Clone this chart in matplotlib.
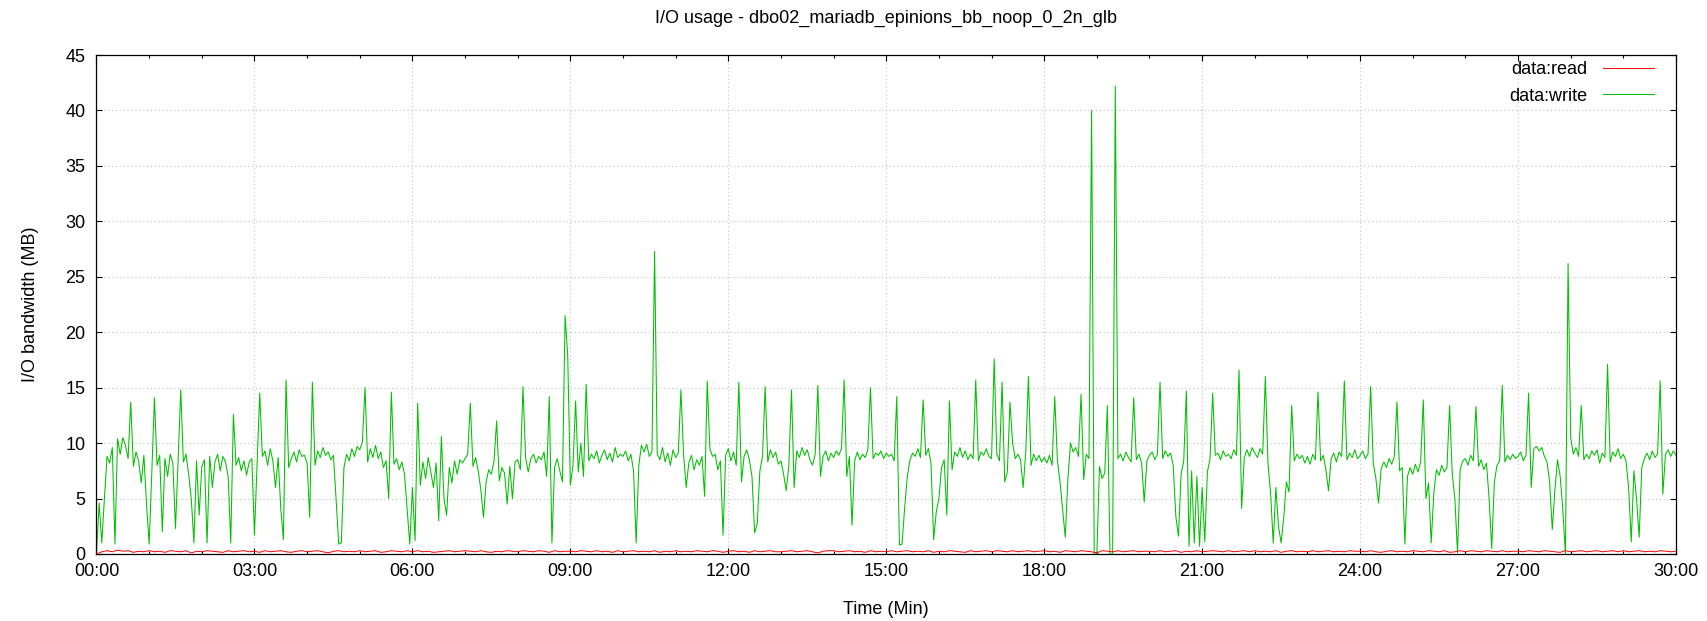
import matplotlib
matplotlib.use('Agg')
import matplotlib.pyplot as plt
from matplotlib.ticker import MultipleLocator, FuncFormatter
import numpy as np

plt.rcParams['font.family'] = ['Liberation Sans', 'DejaVu Sans']

title = "I/O usage - dbo02_mariadb_epinions_bb_noop_0_2n_glb"
x_label = "Time (Min)"
y_label = "I/O bandwidth (MB)"
series_names = ["data:read", "data:write"]

# write bandwidth (MB), one sample every 3 s, rows = minutes
write_mb = [
    0.1, 4.6, 1.0, 5.0, 8.8, 8.2, 9.6, 0.9, 10.4, 9.0, 10.5, 9.8, 8.6, 13.7, 7.9, 9.2, 8.4, 6.4, 8.9, 4.5,
    0.9, 7.3, 14.1, 8.0, 8.9, 2.0, 8.6, 7.0, 9.0, 8.2, 2.3, 8.4, 14.8, 8.3, 9.0, 7.2, 5.0, 1.0, 8.4, 3.5,
    7.9, 8.5, 1.0, 8.8, 6.0, 8.3, 9.0, 7.5, 8.8, 8.3, 7.0, 1.0, 12.6, 8.0, 8.7, 7.5, 8.4, 7.1, 8.3, 8.6,
    1.7, 8.2, 14.5, 8.8, 9.3, 8.0, 9.5, 8.4, 6.0, 8.7, 4.1, 1.3, 15.7, 7.8, 8.6, 9.2, 8.3, 9.4, 8.8, 8.9,
    8.2, 3.3, 15.5, 8.0, 9.3, 8.7, 9.6, 8.9, 9.2, 8.5, 8.9, 5.0, 0.9, 1.0, 7.8, 9.0, 8.4, 9.5, 8.8, 9.7,
    9.4, 10.1, 15.0, 8.3, 9.5, 8.7, 9.8, 8.6, 9.2, 7.8, 8.4, 5.0, 14.6, 8.1, 8.6, 7.6, 8.3, 7.2, 4.0, 0.9,
    6.0, 1.2, 13.6, 6.2, 8.3, 6.8, 8.7, 7.4, 6.0, 8.2, 3.0, 10.6, 5.0, 3.5, 7.8, 6.4, 8.4, 7.2, 8.5, 8.2,
    8.6, 9.0, 13.6, 7.9, 8.7, 7.5, 5.8, 3.3, 6.5, 7.6, 7.2, 8.4, 12.0, 6.6, 7.8, 7.3, 4.5, 7.9, 5.0, 8.3,
    8.5, 7.6, 15.1, 8.7, 7.4, 8.6, 9.0, 8.2, 8.8, 8.5, 9.2, 7.0, 14.2, 1.0, 7.8, 8.6, 7.5, 6.5, 21.5, 17.9,
    6.2, 8.0, 13.8, 7.4, 10.0, 7.0, 15.3, 8.4, 9.0, 8.6, 9.3, 8.2, 8.9, 9.4, 8.5, 9.1, 8.3, 9.6, 8.7, 9.0,
    8.8, 9.3, 8.4, 9.0, 7.5, 1.0, 8.0, 9.8, 9.2, 9.9, 8.8, 9.2, 27.3, 9.0, 8.5, 9.6, 8.3, 9.1, 8.0, 9.4,
    8.7, 9.1, 14.8, 9.0, 6.0, 8.2, 8.9, 7.6, 8.5, 8.0, 8.8, 5.2, 15.6, 9.5, 8.8, 9.0, 7.6, 8.4, 1.7, 8.9,
    9.5, 8.4, 9.2, 8.0, 15.5, 6.5, 8.8, 9.4, 8.5, 7.0, 1.9, 2.8, 7.5, 8.8, 15.1, 8.3, 9.4, 8.7, 9.2, 8.1,
    8.4, 7.2, 5.7, 8.0, 14.8, 6.0, 9.3, 8.7, 9.6, 8.9, 9.4, 8.5, 8.0, 9.0, 15.2, 7.0, 8.8, 9.3, 8.4, 9.1,
    8.7, 9.3, 8.9, 9.5, 15.7, 7.0, 8.8, 2.6, 8.4, 9.2, 8.5, 9.0, 8.7, 9.4, 15.0, 8.6, 9.1, 8.9, 9.3, 8.6,
    9.1, 8.8, 9.0, 8.4, 14.2, 0.8, 0.9, 4.2, 7.0, 8.5, 9.1, 8.8, 9.5, 8.7, 13.9, 8.9, 9.5, 8.2, 1.3, 3.8,
    5.0, 7.8, 8.5, 3.5, 13.8, 7.6, 9.2, 8.8, 9.6, 8.7, 9.3, 8.5, 9.0, 8.6, 15.7, 8.4, 9.2, 8.9, 9.5, 8.8,
    8.6, 17.6, 9.0, 8.4, 15.5, 6.5, 7.4, 13.7, 10.0, 8.6, 9.0, 8.5, 6.0, 9.2, 16.0, 8.0, 9.0, 8.4, 8.9, 8.3,
    8.7, 8.2, 8.9, 8.0, 14.2, 8.5, 6.5, 4.0, 1.5, 6.8, 10.0, 9.2, 9.6, 8.8, 14.4, 6.7, 9.0, 8.6, 40.0, 0.0,
    0.0, 7.9, 6.8, 7.3, 13.4, 0.0, 0.0, 42.2, 8.6, 9.0, 8.4, 9.2, 8.7, 8.3, 14.1, 8.5, 9.0, 8.2, 4.7, 8.4,
    8.9, 9.2, 8.5, 9.0, 15.5, 8.6, 9.3, 8.8, 9.1, 8.0, 3.4, 1.6, 7.2, 8.4, 14.7, 0.7, 7.5, 1.0, 7.0, 0.7,
    6.0, 1.1, 7.4, 8.6, 14.5, 8.9, 9.1, 8.5, 9.3, 8.8, 9.0, 8.6, 9.4, 8.9, 16.6, 4.1, 8.7, 9.4, 8.8, 9.6,
    9.1, 8.7, 9.5, 9.0, 16.0, 8.2, 5.5, 1.0, 6.0, 2.5, 1.0, 3.3, 6.5, 5.6, 13.4, 8.4, 9.0, 8.6, 8.9, 8.2,
    8.8, 8.1, 9.0, 8.5, 14.6, 8.4, 8.9, 7.6, 5.7, 8.6, 9.1, 8.3, 9.2, 8.8, 15.6, 8.5, 9.1, 8.7, 9.4, 8.6,
    8.9, 9.3, 8.6, 9.0, 15.1, 8.2, 6.8, 4.6, 7.7, 8.3, 7.8, 8.6, 8.1, 8.8, 13.7, 7.5, 7.8, 0.9, 7.0, 7.8,
    7.2, 8.1, 7.4, 8.3, 13.9, 5.0, 6.4, 1.0, 5.5, 7.6, 7.1, 8.0, 7.4, 7.8, 13.4, 7.2, 5.0, 0.1, 7.6, 8.4,
    8.6, 8.0, 8.9, 8.4, 13.3, 7.9, 8.5, 7.6, 8.2, 5.0, 0.5, 6.5, 8.0, 8.4, 15.2, 8.3, 8.9, 8.5, 9.0, 8.6,
    8.8, 9.2, 8.4, 8.9, 14.5, 6.0, 9.5, 9.7, 9.3, 9.6, 8.8, 8.3, 6.5, 2.2, 5.8, 8.5, 7.0, 4.0, 0.0, 26.2,
    10.5, 9.0, 9.6, 8.8, 13.4, 8.5, 9.0, 8.6, 9.3, 8.9, 9.4, 8.2, 9.1, 8.7, 17.1, 8.3, 9.2, 8.8, 9.5, 8.6,
    9.0, 8.4, 6.0, 1.1, 7.5, 5.0, 1.5, 7.8, 8.6, 9.1, 8.5, 9.3, 8.7, 9.0, 15.6, 5.4, 9.0, 9.4, 8.8, 9.3,
    8.9,
]
write_time_s = list(range(0, 3 * len(write_mb), 3))

# read bandwidth (MB), one sample every 6 s, rows = minutes
read_mb = [
    0.0, 0.2, 0.3, 0.2, 0.35, 0.25, 0.3, 0.15, 0.25, 0.2,
    0.3, 0.2, 0.25, 0.15, 0.3, 0.25, 0.2, 0.3, 0.1, 0.25,
    0.2, 0.3, 0.25, 0.2, 0.15, 0.3, 0.2, 0.25, 0.3, 0.2,
    0.25, 0.15, 0.3, 0.2, 0.25, 0.3, 0.2, 0.15, 0.25, 0.3,
    0.2, 0.25, 0.3, 0.2, 0.1, 0.25, 0.3, 0.2, 0.25, 0.2,
    0.3, 0.2, 0.25, 0.3, 0.15, 0.2, 0.3, 0.25, 0.2, 0.3,
    0.2, 0.3, 0.2, 0.25, 0.15, 0.2, 0.25, 0.3, 0.2, 0.25,
    0.3, 0.25, 0.2, 0.3, 0.2, 0.15, 0.25, 0.2, 0.3, 0.25,
    0.2, 0.3, 0.25, 0.2, 0.3, 0.25, 0.15, 0.3, 0.2, 0.25,
    0.25, 0.2, 0.3, 0.25, 0.2, 0.3, 0.2, 0.25, 0.15, 0.3,
    0.2, 0.25, 0.3, 0.2, 0.25, 0.2, 0.3, 0.15, 0.25, 0.2,
    0.3, 0.2, 0.25, 0.2, 0.3, 0.25, 0.2, 0.3, 0.25, 0.15,
    0.25, 0.3, 0.2, 0.25, 0.15, 0.3, 0.2, 0.25, 0.3, 0.2,
    0.2, 0.25, 0.3, 0.2, 0.25, 0.3, 0.2, 0.1, 0.25, 0.3,
    0.3, 0.2, 0.25, 0.3, 0.2, 0.25, 0.15, 0.3, 0.2, 0.25,
    0.2, 0.3, 0.2, 0.25, 0.3, 0.2, 0.25, 0.2, 0.3, 0.15,
    0.25, 0.2, 0.3, 0.25, 0.2, 0.15, 0.3, 0.2, 0.25, 0.3,
    0.2, 0.3, 0.25, 0.2, 0.3, 0.2, 0.25, 0.3, 0.2, 0.25,
    0.3, 0.2, 0.25, 0.15, 0.3, 0.25, 0.2, 0.3, 0.25, 0.2,
    0.1, 0.3, 0.25, 0.2, 0.3, 0.2, 0.25, 0.3, 0.2, 0.25,
    0.25, 0.2, 0.3, 0.2, 0.25, 0.3, 0.15, 0.25, 0.2, 0.3,
    0.2, 0.25, 0.3, 0.25, 0.2, 0.3, 0.2, 0.25, 0.3, 0.2,
    0.3, 0.2, 0.25, 0.2, 0.3, 0.15, 0.25, 0.3, 0.2, 0.25,
    0.2, 0.3, 0.2, 0.25, 0.3, 0.2, 0.25, 0.2, 0.3, 0.25,
    0.25, 0.2, 0.3, 0.2, 0.15, 0.25, 0.3, 0.2, 0.25, 0.2,
    0.3, 0.25, 0.2, 0.3, 0.25, 0.2, 0.3, 0.15, 0.2, 0.3,
    0.2, 0.3, 0.25, 0.2, 0.3, 0.25, 0.2, 0.3, 0.2, 0.25,
    0.25, 0.2, 0.3, 0.25, 0.2, 0.3, 0.25, 0.2, 0.15, 0.3,
    0.2, 0.25, 0.3, 0.2, 0.25, 0.3, 0.2, 0.25, 0.3, 0.2,
    0.3, 0.2, 0.25, 0.3, 0.2, 0.25, 0.2, 0.3, 0.25, 0.2,
    0.25,
]
read_time_s = list(range(0, 6 * len(read_mb), 6))

W, H = 1708, 621
FS = 13
fig = plt.figure(figsize=(W / 100, H / 100), dpi=100)
ax_l, ax_r, ax_t, ax_b = 96.5, 1676, 55, 554
ax = fig.add_axes([ax_l / W, 1 - ax_b / H, (ax_r - ax_l) / W, (ax_b - ax_t) / H])

ax.plot(read_time_s, read_mb, color='#ff0000', lw=0.7, label=series_names[0], zorder=3)
ax.plot(write_time_s, write_mb, color='#00c000', lw=0.75, label=series_names[1], zorder=2)

ax.set_xlim(0, 1800)
ax.set_ylim(0, 45)
ax.xaxis.set_major_locator(MultipleLocator(180))
ax.xaxis.set_minor_locator(MultipleLocator(60))
ax.yaxis.set_major_locator(MultipleLocator(5))
ax.xaxis.set_major_formatter(FuncFormatter(lambda v, p: f"{int(round(v)) // 60:02d}:{int(round(v)) % 60:02d}"))

ax.tick_params(which='both', direction='in', top=True, right=True, colors='black', labelsize=FS)
ax.tick_params(which='major', length=4.5, width=0.8)
ax.tick_params(which='minor', length=2.5, width=0.8)
ax.tick_params(axis='y', pad=8)
ax.tick_params(axis='x', pad=6.5)

ax.grid(True, which='major', color='#c0c0c0', linestyle=(0, (1, 2.5)), linewidth=0.8)
ax.set_axisbelow(True)
for s in ax.spines.values():
    s.set_color('black')
    s.set_linewidth(0.9)

cx = (ax_l + ax_r) / 2 / W
fig.text(cx, 1 - 18.5 / H, title, ha='center', va='center', fontsize=FS)
fig.text(cx, 1 - 609 / H, x_label, ha='center', va='center', fontsize=FS)
fig.text(31 / W, 1 - 304 / H, y_label, ha='center', va='center', rotation=90, fontsize=FS)

ax.legend(loc='upper right', bbox_to_anchor=((1654 - ax_l) / (ax_r - ax_l), 0.987),
          frameon=False, markerfirst=False, handlelength=2.85, handletextpad=0.85,
          fontsize=FS, borderaxespad=0, borderpad=0, labelspacing=0.5)

fig.savefig('out.png', dpi=100)
